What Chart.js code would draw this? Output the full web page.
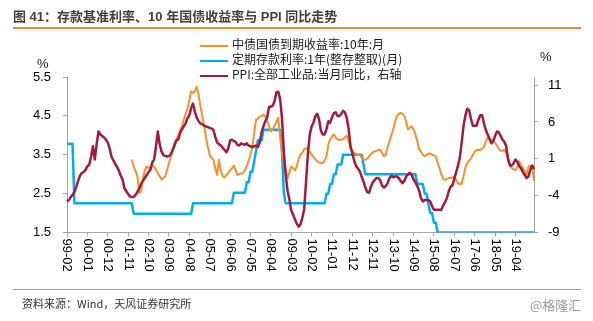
<!DOCTYPE html>
<html lang="zh">
<head>
<meta charset="utf-8">
<script src="https://cdn.jsdelivr.net/npm/chart.js@4.4.1/dist/chart.umd.min.js"></script>
<style>
  body { margin: 0; background: #fff; }
  #wrap { position: relative; width: 593px; height: 321px; overflow: hidden;
          font-family: "Liberation Sans", "Noto Sans CJK SC", sans-serif; color: #1a1a1a; }
  #chart { position: absolute; left: 0; top: 0; }
  .abs { position: absolute; white-space: nowrap; z-index: 2; }
  #title { left: 13px; top: 6px; font-size: 13px; font-weight: bold; color: #404040; }
  .rule { position: absolute; left: 13px; width: 568px; background: #ED8A2E; z-index: 2; }
  #legend { left: 200px; top: 36px; font-size: 12px; line-height: 15px; font-family: "Noto Sans CJK SC", sans-serif; }
  #legend .swatch { display: inline-block; width: 28px; height: 2px; vertical-align: middle; margin-right: 4px; }
  .unit { font-size: 13px; }
  #source { left: 22px; top: 295px; font-size: 11px; color: #333; font-family: "Noto Sans CJK SC", sans-serif; }
  #mark { left: 530px; top: 295px; font-size: 13px; color: #9a9a9a; font-family: "Noto Sans CJK SC", sans-serif; }
</style>
</head>
<body>
<div id="wrap">
  <canvas id="chart" width="593" height="321"></canvas>
  <div id="title" class="abs">图 41：存款基准利率、10 年国债收益率与 PPI 同比走势</div>
  <div class="rule" style="top:27px;height:2px"></div>
  <div id="legend" class="abs"></div>
  <div class="abs unit" style="left:37px;top:56px">%</div>
  <div class="abs unit" style="left:540px;top:49px">%</div>
  <div class="rule" style="top:289px;height:1px"></div>
  <div id="source" class="abs">资料来源：Wind，天风证券研究所</div>
  <div id="mark" class="abs">@格隆汇</div>
</div>
<script>
// monthly series, 1999-02 .. 2020-02
const startYear = 1999, startMonth = 2;

// 中债国债到期收益率:10年 (%), starts 2002-01
const bondYield = Array(35).fill(null).concat([
  3.38, 3.20, 3.08, 2.95, 2.52, 2.55, 2.90, 3.10, 3.20, 3.16, 3.18, 3.20, // 2002
  3.20, 3.12, 3.03, 2.95, 2.86, 2.90, 2.94, 3.10, 3.28, 3.45, 3.60, 3.80, // 2003
  3.90, 4.00, 4.12, 4.23, 4.40, 4.55, 4.68, 4.90, 5.13, 5.08, 5.15, 5.25, // 2004
  5.05, 4.75, 4.50, 4.25, 3.95, 3.70, 3.50, 3.42, 3.37, 3.15, 2.98, 3.37, // 2005
  3.10, 2.95, 2.92, 2.98, 3.03, 3.10, 3.15, 3.22, 3.10, 2.98, 3.00, 3.02, // 2006
  3.03, 3.10, 3.20, 3.35, 3.50, 3.70, 4.05, 4.40, 4.42, 4.48, 4.50, 4.53, // 2007
  4.48, 4.38, 4.25, 4.10, 4.15, 4.25, 4.35, 4.45, 3.95, 3.55, 3.30, 3.10, // 2008
  2.90, 3.05, 3.20, 3.15, 3.10, 3.20, 3.40, 3.50, 3.55, 3.65, 3.67, 3.63, // 2009
  3.58, 3.50, 3.45, 3.38, 3.33, 3.30, 3.28, 3.29, 3.35, 3.46, 3.75, 3.90, // 2010
  3.97, 4.02, 3.95, 3.89, 3.88, 3.89, 3.90, 3.95, 3.99, 3.85, 3.67, 3.60, // 2011
  3.54, 3.52, 3.50, 3.50, 3.42, 3.37, 3.37, 3.40, 3.46, 3.52, 3.56, 3.59, // 2012
  3.60, 3.62, 3.63, 3.55, 3.46, 3.50, 3.70, 3.84, 4.00, 4.15, 4.35, 4.49, // 2013
  4.55, 4.58, 4.55, 4.50, 4.35, 4.15, 4.20, 4.23, 4.15, 4.02, 3.85, 3.65, // 2014
  3.58, 3.50, 3.46, 3.50, 3.52, 3.54, 3.50, 3.48, 3.46, 3.30, 3.15, 3.00, // 2015
  2.88, 2.85, 2.88, 2.90, 2.90, 2.92, 2.94, 2.85, 2.77, 2.74, 2.76, 2.95, // 2016
  3.18, 3.28, 3.35, 3.40, 3.50, 3.58, 3.62, 3.63, 3.62, 3.66, 3.70, 3.85, // 2017
  3.93, 3.90, 3.89, 3.85, 3.80, 3.74, 3.65, 3.60, 3.60, 3.63, 3.55, 3.45, // 2018
  3.25, 3.16, 3.12, 3.11, 3.18, 3.33, 3.24, 3.15, 3.08, 3.00, 3.20, 3.22, // 2019
  3.20, 2.83                                                              // 2020
]);

// 定期存款利率:1年(整存整取) (%)
const depositRate = [
  3.78, 3.78, 3.78, 3.78, 2.25, 2.25, 2.25, 2.25, 2.25, 2.25, 2.25,       // 1999 (Feb-Dec)
  2.25, 2.25, 2.25, 2.25, 2.25, 2.25, 2.25, 2.25, 2.25, 2.25, 2.25, 2.25, // 2000
  2.25, 2.25, 2.25, 2.25, 2.25, 2.25, 2.25, 2.25, 2.25, 2.25, 2.25, 2.25, // 2001
  2.25, 1.98, 1.98, 1.98, 1.98, 1.98, 1.98, 1.98, 1.98, 1.98, 1.98, 1.98, // 2002
  1.98, 1.98, 1.98, 1.98, 1.98, 1.98, 1.98, 1.98, 1.98, 1.98, 1.98, 1.98, // 2003
  1.98, 1.98, 1.98, 1.98, 1.98, 1.98, 1.98, 1.98, 1.98, 2.25, 2.25, 2.25, // 2004
  2.25, 2.25, 2.25, 2.25, 2.25, 2.25, 2.25, 2.25, 2.25, 2.25, 2.25, 2.25, // 2005
  2.25, 2.25, 2.25, 2.25, 2.25, 2.25, 2.25, 2.52, 2.52, 2.52, 2.52, 2.52, // 2006
  2.52, 2.52, 2.79, 2.79, 3.06, 3.06, 3.33, 3.60, 3.87, 3.87, 3.87, 4.14, // 2007
  4.14, 4.14, 4.14, 4.14, 4.14, 4.14, 4.14, 4.14, 4.14, 3.60, 2.52, 2.25, // 2008
  2.25, 2.25, 2.25, 2.25, 2.25, 2.25, 2.25, 2.25, 2.25, 2.25, 2.25, 2.25, // 2009
  2.25, 2.25, 2.25, 2.25, 2.25, 2.25, 2.25, 2.25, 2.25, 2.50, 2.50, 2.75, // 2010
  2.75, 3.00, 3.00, 3.25, 3.25, 3.25, 3.50, 3.50, 3.50, 3.50, 3.50, 3.50, // 2011
  3.50, 3.50, 3.50, 3.50, 3.50, 3.25, 3.00, 3.00, 3.00, 3.00, 3.00, 3.00, // 2012
  3.00, 3.00, 3.00, 3.00, 3.00, 3.00, 3.00, 3.00, 3.00, 3.00, 3.00, 3.00, // 2013
  3.00, 3.00, 3.00, 3.00, 3.00, 3.00, 3.00, 3.00, 3.00, 3.00, 2.75, 2.75, // 2014
  2.75, 2.75, 2.50, 2.50, 2.25, 2.00, 2.00, 1.75, 1.75, 1.50, 1.50, 1.50, // 2015
  1.50, 1.50, 1.50, 1.50, 1.50, 1.50, 1.50, 1.50, 1.50, 1.50, 1.50, 1.50, // 2016
  1.50, 1.50, 1.50, 1.50, 1.50, 1.50, 1.50, 1.50, 1.50, 1.50, 1.50, 1.50, // 2017
  1.50, 1.50, 1.50, 1.50, 1.50, 1.50, 1.50, 1.50, 1.50, 1.50, 1.50, 1.50, // 2018
  1.50, 1.50, 1.50, 1.50, 1.50, 1.50, 1.50, 1.50, 1.50, 1.50, 1.50, 1.50, // 2019
  1.50, 1.50                                                              // 2020
];

// PPI:全部工业品:当月同比 (%), right axis
const ppi = [
  -4.8, -4.6, -4.2, -3.9, -3.5, -2.8, -2.0, -1.3, -0.9, -0.8, -0.5,       // 1999 (Feb-Dec)
  0.0, 0.2, 1.3, 2.7, 0.9, 3.0, 4.7, 4.3, 4.1, 3.9, 3.6, 3.2,             // 2000
  2.4, 1.3, 0.8, 0.3, -0.1, -0.6, -1.3, -1.8, -3.0, -3.4, -3.8, -4.1,     // 2001
  -4.2, -4.15, -3.9, -3.5, -3.0, -2.4, -2.0, -1.6, -1.2, -0.8, -0.5, 0.5, // 2002
  0.9, 2.6, 4.7, 3.0, 2.0, 1.5, 1.4, 1.3, 1.4, 1.6, 2.2, 2.8,             // 2003
  3.5, 3.6, 4.5, 5.0, 5.4, 5.8, 6.5, 6.9, 7.9, 8.5, 7.4, 6.6,             // 2004
  6.1, 5.8, 5.7, 5.5, 5.4, 5.3, 5.2, 5.1, 4.9, 4.0, 3.2, 3.0,             // 2005
  2.8, 2.5, 2.2, 1.9, 2.4, 3.5, 3.6, 3.4, 3.3, 2.9, 2.8, 3.1,             // 2006
  3.0, 2.9, 3.1, 2.8, 2.7, 2.6, 2.7, 2.8, 2.6, 3.2, 4.6, 5.4,             // 2007
  6.1, 6.6, 8.0, 8.1, 8.2, 8.8, 10.0, 10.1, 9.1, 6.6, 2.0, -1.1,          // 2008
  -3.3, -4.5, -6.0, -6.6, -7.2, -7.8, -8.2, -7.9, -7.0, -5.8, -2.1, 1.7,  // 2009
  4.3, 5.4, 5.9, 6.8, 7.1, 6.4, 4.8, 4.3, 4.3, 5.0, 6.1, 5.9,             // 2010
  6.6, 7.2, 7.3, 6.8, 6.8, 7.1, 7.5, 7.3, 6.5, 5.0, 2.7, 1.7,             // 2011
  0.7, 0.0, -0.3, -0.7, -1.4, -2.1, -2.9, -3.5, -3.6, -2.8, -2.2, -1.9,   // 2012
  -1.6, -1.6, -1.9, -2.6, -2.9, -2.7, -2.3, -1.6, -1.3, -1.5, -1.4, -1.4, // 2013
  -1.6, -2.0, -2.3, -2.0, -1.4, -1.1, -0.9, -1.2, -1.8, -2.2, -2.7, -3.3, // 2014
  -4.3, -4.8, -4.6, -4.6, -4.6, -4.8, -5.4, -5.9, -5.9, -5.9, -5.9, -5.9, // 2015
  -5.3, -4.9, -4.3, -3.4, -2.8, -2.6, -1.7, -0.8, 0.1, 1.2, 3.3, 5.5,     // 2016
  6.9, 7.8, 7.6, 6.4, 5.5, 5.5, 5.5, 6.3, 6.9, 6.9, 5.8, 4.9,             // 2017
  4.3, 3.7, 3.1, 3.4, 4.1, 4.7, 4.6, 4.1, 3.6, 3.3, 2.7, 0.9,             // 2018
  0.1, 0.1, 0.4, 0.9, 0.6, 0.0, -0.3, -0.8, -1.2, -1.6, -1.4, -0.5,       // 2019
  0.1, -0.4                                                               // 2020
];

const leftTicks = [1.5, 2.5, 3.5, 4.5, 5.5];
const rightTicks = [-9, -4, 1, 6, 11];
const labelEvery = 11; // months between x-axis labels

// "YY-MM" category labels
const months = ppi.map((_, i) => {
  const n = startMonth - 1 + i;
  const y = (startYear + Math.floor(n / 12)) % 100;
  const m = n % 12 + 1;
  return String(y).padStart(2, '0') + '-' + String(m).padStart(2, '0');
});

const orange = '#F5912C';
const blue = '#00AEEF';
const red = '#A11A40';
const axisGray = '#a6a6a6';

Chart.defaults.font.family = '"Liberation Sans", Arial, sans-serif';
Chart.defaults.font.size = 13;
Chart.defaults.color = '#000';

// x labels read top-to-bottom, so they are painted by hand
const xLabels = {
  id: 'xLabels',
  afterDraw(chart) {
    const s = chart.scales.x;
    const c = chart.ctx;
    c.save();
    c.font = '13px "Liberation Sans", Arial, sans-serif';
    c.fillStyle = '#000';
    c.textAlign = 'left';
    c.textBaseline = 'middle';
    s.ticks.forEach(t => {
      c.save();
      c.translate(s.getPixelForValue(t.value), s.top + 6);
      c.rotate(Math.PI / 2);
      c.fillText(months[t.value], 0, 0);
      c.restore();
    });
    c.restore();
  }
};

const ctx = document.getElementById('chart').getContext('2d');
const myChart = new Chart(ctx, {
  type: 'line',
  data: {
    labels: months,
    datasets: [
      { label: '中债国债到期收益率:10年:月', data: bondYield, borderColor: orange, borderWidth: 2, yAxisID: 'y', order: 1 },
      { label: '定期存款利率:1年(整存整取)(月)', data: depositRate, borderColor: blue, borderWidth: 2.5, yAxisID: 'y', order: 2 },
      { label: 'PPI:全部工业品:当月同比，右轴', data: ppi, borderColor: red, borderWidth: 2.5, yAxisID: 'y2', order: 0 }
    ]
  },
  options: {
    responsive: false,
    animation: false,
    elements: {
      point: { radius: 0 },
      line: { tension: 0, borderJoinStyle: 'round', fill: false }
    },
    layout: { padding: { top: 77, left: 0, right: 0, bottom: 0 } },
    plugins: {
      legend: { display: false },
      tooltip: { enabled: false }
    },
    scales: {
      x: {
        grid: { drawOnChartArea: false, tickLength: 4, color: axisGray },
        border: { color: axisGray },
        ticks: { display: false },
        afterBuildTicks: s => { s.ticks = s.ticks.filter(t => t.value % labelEvery === 0); },
        afterFit: s => { s.height = 88.5; }
      },
      y: {
        position: 'left',
        min: 1.5,
        max: 5.5,
        afterBuildTicks: s => { s.ticks = leftTicks.map(v => ({ value: v })); },
        ticks: { padding: 12, callback: v => v.toFixed(1) },
        grid: { drawOnChartArea: false, tickLength: 4, color: axisGray },
        border: { color: axisGray },
        afterFit: s => { s.width = 67; }
      },
      y2: {
        position: 'right',
        min: -9,
        max: 12.1,
        afterBuildTicks: s => { s.ticks = rightTicks.map(v => ({ value: v })); },
        ticks: { padding: 10, callback: v => String(v) },
        grid: { drawOnChartArea: false, tickLength: 4, color: axisGray },
        border: { color: axisGray },
        afterFit: s => { s.width = 59; }
      }
    }
  },
  plugins: [xLabels]
});

// legend in the original order: yield, deposit rate, PPI
document.getElementById('legend').innerHTML = myChart.data.datasets.map(d =>
  '<div><span class="swatch" style="background:' + d.borderColor + '"></span>' + d.label + '</div>'
).join('');
</script>
</body>
</html>
